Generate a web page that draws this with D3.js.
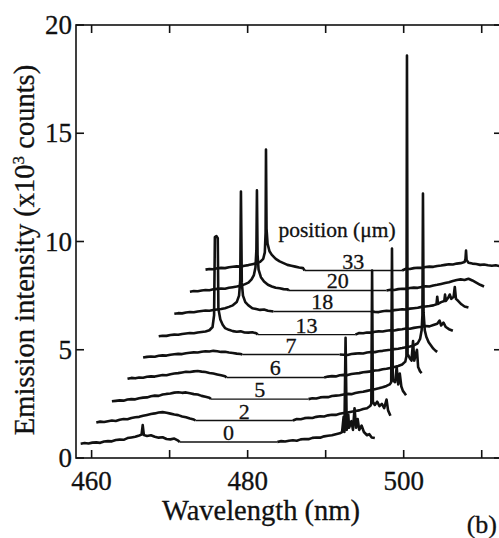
<!DOCTYPE html>
<html>
<head>
<meta charset="utf-8">
<script src="https://cdn.jsdelivr.net/npm/d3@7/dist/d3.min.js"></script>
<style>
  html, body { margin: 0; padding: 0; background: #fff; }
  svg { display: block; font-family: "Liberation Serif", "Times New Roman", serif; }
</style>
</head>
<body>
<svg id="chart" width="499" height="538"></svg>
<script>
// Emission spectra recorded along the sample, stacked as a waterfall.
// Each spectrum: two measured windows (raw wavelength in nm, intensity in 10^3 counts).
const positions = ["0", "2", "5", "6", "7", "13", "18", "20", "33"];
// Per-spectrum shift used for the waterfall (nm along x, 10^3 counts along y)
const xOffsets = [0, 2, 4, 6, 8, 10, 12, 14, 16];
const yOffsets = [0, 1, 2, 3, 4, 5, 6, 7, 8];

const xTicks = [460, 470, 480, 490, 500, 510];
const xTickLabels = ["460", "", "480", "", "500", ""];
const yTicks = [0, 5, 10, 15, 20];

// Blue window (broad emission band)
const leftP0 = [[458.6,0.66],[459.1,0.69],[459.6,0.67],[460.1,0.71],[460.6,0.72],[461.1,0.70],[461.6,0.76],[462.1,0.78],[462.6,0.77],[463.1,0.83],[463.6,0.85],[464.1,0.84],[464.6,0.92],[465.1,0.95],[465.6,0.98],[466.1,1.04],[466.4,1.08],[466.55,1.52],[466.7,1.06],[467.1,1.02],[467.6,1.05],[468.1,0.98],[468.6,0.94],[469.1,0.96],[469.6,0.88],[470.1,0.86],[470.6,0.90],[471.1,0.80],[471.3,0.74]];
const leftP2 = [[458.6,0.64],[459.1,0.68],[459.6,0.66],[460.1,0.70],[460.6,0.73],[461.1,0.71],[461.6,0.77],[462.1,0.80],[462.6,0.79],[463.1,0.85],[463.6,0.88],[464.1,0.90],[464.6,0.95],[465.1,0.99],[465.6,1.03],[466.1,1.06],[466.6,1.10],[467.1,1.12],[467.6,1.09],[468.1,1.05],[468.6,1.01],[469.1,0.98],[469.6,0.92],[470.1,0.88],[470.6,0.82],[471.1,0.78],[471.3,0.73]];
const leftP5 = [[458.6,0.62],[459.1,0.64],[459.6,0.66],[460.1,0.65],[460.6,0.70],[461.1,0.72],[461.6,0.71],[462.1,0.76],[462.6,0.79],[463.1,0.80],[463.6,0.85],[464.1,0.88],[464.6,0.87],[465.1,0.93],[465.6,0.96],[466.1,0.98],[466.6,1.02],[467.1,1.04],[467.6,1.01],[468.1,1.03],[468.6,0.99],[469.1,0.95],[469.6,0.93],[470.1,0.87],[470.6,0.83],[471.1,0.78],[471.3,0.72]];
const leftP6 = [[458.6,0.66],[459.1,0.70],[459.6,0.68],[460.1,0.72],[460.6,0.71],[461.1,0.75],[461.6,0.77],[462.1,0.76],[462.6,0.80],[463.1,0.83],[463.6,0.82],[464.1,0.87],[464.6,0.90],[465.1,0.92],[465.6,0.95],[466.1,0.98],[466.6,0.97],[467.1,1.00],[467.6,1.02],[468.1,0.99],[468.6,0.97],[469.1,0.93],[469.6,0.90],[470.1,0.86],[470.6,0.82],[471.1,0.78],[471.3,0.72]];
const leftP7 = [[458.6,0.64],[459.1,0.67],[459.6,0.69],[460.1,0.68],[460.6,0.72],[461.1,0.74],[461.6,0.73],[462.1,0.77],[462.6,0.79],[463.1,0.81],[463.6,0.80],[464.1,0.84],[464.6,0.86],[465.1,0.88],[465.6,0.87],[466.1,0.91],[466.6,0.93],[467.1,0.92],[467.6,0.95],[468.1,0.93],[468.6,0.90],[469.1,0.91],[469.6,0.87],[470.1,0.85],[470.6,0.82],[471.1,0.80],[471.3,0.78]];
const leftP13 = [[458.6,0.62],[459.1,0.65],[459.6,0.64],[460.1,0.68],[460.6,0.70],[461.1,0.69],[461.6,0.73],[462.1,0.75],[462.6,0.77],[463.1,0.76],[463.6,0.80],[464.1,0.82],[464.6,0.84],[465.1,0.90],[465.5,1.05],[465.7,1.6],[465.8,5.20],[466.0,5.25],[466.17,5.15],[466.25,1.9],[466.5,1.4],[466.8,1.15],[467.1,1.0],[467.6,0.92],[468.1,0.86],[468.6,0.83],[469.1,0.85],[469.6,0.80],[470.1,0.79],[470.6,0.81],[471.1,0.76],[471.3,0.70]];
const leftP18 = [[458.6,0.66],[459.1,0.69],[459.6,0.68],[460.1,0.72],[460.6,0.74],[461.1,0.73],[461.6,0.77],[462.1,0.79],[462.6,0.81],[463.1,0.80],[463.6,0.84],[464.1,0.86],[464.6,0.88],[465.1,0.92],[465.6,0.98],[466.1,1.05],[466.6,1.2],[466.9,1.5],[467.05,2.2],[467.14,6.31],[467.25,2.1],[467.4,1.5],[467.7,1.2],[468.1,1.05],[468.6,0.92],[469.1,0.88],[469.6,0.84],[470.1,0.86],[470.6,0.80],[471.1,0.78],[471.3,0.77]];
const leftP20 = [[458.6,0.68],[459.1,0.71],[459.6,0.70],[460.1,0.74],[460.6,0.76],[461.1,0.75],[461.6,0.79],[462.1,0.81],[462.6,0.83],[463.1,0.82],[463.6,0.86],[464.1,0.89],[464.6,0.92],[465.1,0.96],[465.6,1.02],[466.1,1.10],[466.5,1.25],[466.8,1.45],[467.0,1.8],[467.12,2.6],[467.19,5.36],[467.27,2.4],[467.4,1.7],[467.7,1.35],[468.1,1.15],[468.6,1.0],[469.1,0.92],[469.6,0.86],[470.1,0.84],[470.6,0.80],[471.1,0.79],[471.3,0.74]];
const leftP33 = [[458.6,0.70],[459.1,0.73],[459.6,0.72],[460.1,0.76],[460.6,0.78],[461.1,0.77],[461.6,0.81],[462.1,0.83],[462.6,0.85],[463.1,0.84],[463.6,0.88],[464.1,0.91],[464.6,0.95],[465.1,0.99],[465.6,1.06],[466.0,1.2],[466.2,1.5],[466.3,2.4],[466.35,6.25],[466.42,2.6],[466.55,1.9],[466.8,1.55],[467.1,1.38],[467.6,1.2],[468.1,1.08],[468.6,1.0],[469.1,0.92],[469.6,0.88],[470.1,0.84],[470.6,0.80],[471.1,0.77],[471.3,0.66]];

// Green window (lasing lines)
const rightP0 = [[483.8,0.74],[484.3,0.78],[484.8,0.76],[485.3,0.80],[485.8,0.82],[486.3,0.80],[486.8,0.86],[487.3,0.88],[487.8,0.87],[488.3,0.93],[488.8,0.95],[489.3,0.94],[489.8,1.00],[490.3,1.03],[490.8,1.05],[491.3,1.10],[491.8,1.14],[492.1,1.2],[492.3,1.9],[492.4,1.2],[492.55,5.55],[492.7,1.3],[492.9,2.0],[493.0,1.4],[493.3,1.7],[493.5,1.3],[493.7,2.3],[493.9,1.4],[494.1,1.8],[494.3,1.3],[494.6,1.5],[494.9,1.2],[495.3,1.05],[495.6,1.1],[495.9,0.95],[496.3,0.92]];
const rightP2 = [[483.8,0.73],[484.3,0.80],[484.8,0.79],[485.3,0.84],[485.8,0.86],[486.3,0.85],[486.8,0.90],[487.3,0.93],[487.8,0.92],[488.3,0.97],[488.8,1.00],[489.3,0.99],[489.8,1.04],[490.3,1.08],[490.8,1.10],[491.3,1.14],[491.8,1.17],[492.3,1.20],[492.8,1.26],[493.3,1.30],[493.7,1.40],[493.85,1.5],[493.95,7.66],[494.05,1.6],[494.3,1.45],[494.6,1.6],[494.9,1.4],[495.2,1.5],[495.5,1.3],[495.8,1.7],[496.0,1.2],[496.3,0.95]];
const rightP5 = [[483.8,0.72],[484.3,0.76],[484.8,0.75],[485.3,0.80],[485.8,0.82],[486.3,0.81],[486.8,0.86],[487.3,0.88],[487.8,0.90],[488.3,0.93],[488.8,0.96],[489.3,0.95],[489.8,1.00],[490.3,1.04],[490.8,1.06],[491.3,1.10],[491.8,1.14],[492.3,1.18],[492.8,1.22],[493.3,1.27],[493.8,1.33],[494.2,1.40],[494.4,1.5],[494.5,7.68],[494.6,1.6],[494.9,1.5],[495.1,2.2],[495.3,1.4],[495.5,1.9],[495.7,1.3],[495.9,1.1],[496.1,1.0],[496.3,0.9]];
const rightP6 = [[483.8,0.72],[484.3,0.76],[484.8,0.78],[485.3,0.77],[485.8,0.82],[486.3,0.84],[486.8,0.83],[487.3,0.88],[487.8,0.90],[488.3,0.92],[488.8,0.96],[489.3,0.98],[489.8,1.00],[490.3,1.04],[490.8,1.05],[491.3,1.10],[491.8,1.12],[492.3,1.16],[492.8,1.20],[493.3,1.25],[493.8,1.32],[494.2,1.45],[494.35,1.7],[494.42,15.59],[494.5,1.8],[494.8,1.6],[495.0,1.5],[495.2,2.4],[495.35,1.5],[495.7,2.0],[495.85,1.2],[496.1,1.0],[496.3,0.92]];
const rightP7 = [[483.8,0.78],[484.3,0.77],[484.8,0.76],[485.3,0.80],[485.8,0.82],[486.3,0.84],[486.8,0.83],[487.3,0.87],[487.8,0.90],[488.3,0.89],[488.8,0.93],[489.3,0.95],[489.8,0.98],[490.3,1.00],[490.8,1.03],[491.3,1.05],[491.8,1.08],[492.3,1.12],[492.8,1.15],[493.3,1.20],[493.8,1.30],[494.1,1.5],[494.3,1.9],[494.4,2.6],[494.47,8.22],[494.55,2.7],[494.7,1.9],[494.9,1.6],[495.2,1.35],[495.5,1.2],[495.8,1.05],[496.1,0.95],[496.3,0.9]];
const rightP13 = [[483.8,0.70],[484.3,0.77],[484.8,0.76],[485.3,0.80],[485.8,0.79],[486.3,0.83],[486.8,0.85],[487.3,0.84],[487.8,0.88],[488.3,0.90],[488.8,0.89],[489.3,0.93],[489.8,0.95],[490.3,0.98],[490.8,0.97],[491.3,1.01],[491.8,1.04],[492.3,1.06],[492.8,1.10],[493.3,1.08],[493.8,1.14],[494.3,1.20],[494.6,1.35],[494.8,1.12],[495.1,1.25],[495.4,1.05],[495.8,0.95],[496.3,0.88]];
const rightP18 = [[483.8,0.77],[484.3,0.75],[484.8,0.74],[485.3,0.78],[485.8,0.80],[486.3,0.79],[486.8,0.83],[487.3,0.85],[487.8,0.87],[488.3,0.86],[488.8,0.90],[489.3,0.92],[489.8,0.94],[490.3,0.98],[490.8,1.00],[491.3,1.02],[491.8,1.05],[492.2,1.10],[492.3,1.45],[492.4,1.12],[492.8,1.20],[493.2,1.25],[493.3,1.55],[493.4,1.25],[493.7,1.40],[493.9,1.55],[494.1,1.35],[494.4,1.45],[494.55,1.9],[494.7,1.35],[495.0,1.25],[495.4,1.10],[495.8,1.0],[496.3,0.95]];
const rightP20 = [[483.8,0.74],[484.3,0.77],[484.8,0.76],[485.3,0.80],[485.8,0.82],[486.3,0.81],[486.8,0.85],[487.3,0.87],[487.8,0.86],[488.3,0.90],[488.8,0.93],[489.3,0.92],[489.8,0.97],[490.3,1.00],[490.8,1.04],[491.3,1.08],[491.8,1.12],[492.3,1.18],[492.8,1.22],[493.3,1.25],[493.8,1.22],[494.3,1.28],[494.8,1.20],[495.3,1.10],[495.8,1.00],[496.3,0.92]];
const rightP33 = [[483.8,0.66],[484.3,0.74],[484.8,0.73],[485.3,0.77],[485.8,0.79],[486.3,0.78],[486.8,0.82],[487.3,0.84],[487.8,0.83],[488.3,0.87],[488.8,0.89],[489.3,0.92],[489.8,0.95],[490.3,0.94],[490.8,0.98],[491.3,1.00],[491.8,1.05],[491.92,1.2],[491.99,1.58],[492.06,1.15],[492.3,1.02],[492.8,0.98],[493.3,0.96],[493.8,0.92],[494.3,0.94],[494.8,0.90],[495.3,0.88],[495.8,0.90],[496.3,0.86]];

const leftWindows = [leftP0, leftP2, leftP5, leftP6, leftP7, leftP13, leftP18, leftP20, leftP33];
const rightWindows = [rightP0, rightP2, rightP5, rightP6, rightP7, rightP13, rightP18, rightP20, rightP33];

const svg = d3.select("#chart");
const plot = { left: 76, right: 502, top: 25, bottom: 458 };
const ink = "#111";

const x = d3.scaleLinear().domain([458, 512.6]).range([plot.left, plot.right]);
const y = d3.scaleLinear().domain([0, 20]).range([plot.bottom, plot.top]);

svg.append("defs").append("clipPath").attr("id", "plotclip")
  .append("rect")
  .attr("x", plot.left).attr("y", plot.top)
  .attr("width", plot.right - plot.left).attr("height", plot.bottom - plot.top);

const traces = svg.append("g").attr("clip-path", "url(#plotclip)");

positions.forEach((pos, i) => {
  const dx = xOffsets[i], dy = yOffsets[i];
  const line = d3.line()
    .x(d => x(d[0] + dx))
    .y(d => y(d[1] + dy));
  const L = leftWindows[i], R = rightWindows[i];
  const a = L[L.length - 1], b = R[0];

  // connecting baseline between the two windows
  traces.append("line")
    .attr("x1", x(a[0] + dx)).attr("y1", y(a[1] + dy))
    .attr("x2", x(b[0] + dx)).attr("y2", y(b[1] + dy))
    .attr("stroke", ink).attr("stroke-width", 1.4);

  [L, R].forEach(seg => {
    traces.append("path")
      .datum(seg)
      .attr("d", line)
      .attr("fill", "none")
      .attr("stroke", ink)
      .attr("stroke-width", 2.6)
      .attr("stroke-linejoin", "round");
  });

  // position label sits on the connecting line
  const mx = (x(a[0] + dx) + x(b[0] + dx)) / 2;
  const my = (y(a[1] + dy) + y(b[1] + dy)) / 2;
  svg.append("text")
    .attr("x", mx).attr("y", my - 2)
    .attr("text-anchor", "middle")
    .attr("font-size", 22)
    .attr("fill", ink)
    .attr("stroke", ink).attr("stroke-width", 0.3)
    .text(pos);
});

svg.append("text")
  .attr("x", 337).attr("y", 237)
  .attr("text-anchor", "middle")
  .attr("font-size", 21.5)
  .attr("fill", ink)
  .attr("stroke", ink).attr("stroke-width", 0.3)
  .text("position (\u03bcm)");

// Frame
svg.append("rect")
  .attr("x", plot.left).attr("y", plot.top)
  .attr("width", plot.right - plot.left).attr("height", plot.bottom - plot.top)
  .attr("fill", "none").attr("stroke", ink).attr("stroke-width", 1.6);

const tickLen = 8;
const gx = svg.append("g");
xTicks.forEach((t, k) => {
  const px = x(t);
  gx.append("line").attr("x1", px).attr("x2", px)
    .attr("y1", plot.bottom).attr("y2", plot.bottom - tickLen)
    .attr("stroke", ink).attr("stroke-width", 1.6);
  gx.append("line").attr("x1", px).attr("x2", px)
    .attr("y1", plot.top).attr("y2", plot.top + tickLen)
    .attr("stroke", ink).attr("stroke-width", 1.6);
  if (xTickLabels[k]) {
    gx.append("text").attr("x", px).attr("y", plot.bottom + 32)
      .attr("text-anchor", "middle").attr("font-size", 27)
      .attr("fill", ink).attr("stroke", ink).attr("stroke-width", 0.3)
      .text(xTickLabels[k]);
  }
});

const gy = svg.append("g");
yTicks.forEach(t => {
  const py = y(t);
  gy.append("line").attr("x1", plot.left).attr("x2", plot.left + tickLen)
    .attr("y1", py).attr("y2", py)
    .attr("stroke", ink).attr("stroke-width", 1.6);
  gy.append("line").attr("x1", plot.right).attr("x2", plot.right - tickLen)
    .attr("y1", py).attr("y2", py)
    .attr("stroke", ink).attr("stroke-width", 1.6);
  gy.append("text").attr("x", plot.left - 4).attr("y", py + 9)
    .attr("text-anchor", "end").attr("font-size", 27)
    .attr("fill", ink).attr("stroke", ink).attr("stroke-width", 0.3)
    .text(String(t));
});

svg.append("text")
  .attr("x", 261).attr("y", 520)
  .attr("text-anchor", "middle").attr("font-size", 28.5)
  .attr("fill", ink).attr("stroke", ink).attr("stroke-width", 0.3)
  .text("Wavelength (nm)");

const yTitle = svg.append("text")
  .attr("transform", "translate(34,250) rotate(-90)")
  .attr("text-anchor", "middle").attr("font-size", 28.5)
  .attr("fill", ink).attr("stroke", ink).attr("stroke-width", 0.3);
yTitle.append("tspan").text("Emission intensity (x10");
yTitle.append("tspan").attr("dy", -10).attr("font-size", 17).text("3");
yTitle.append("tspan").attr("dy", 10).text(" counts)");

svg.append("text")
  .attr("x", 497).attr("y", 533)
  .attr("text-anchor", "end")
  .attr("font-size", 26).attr("fill", ink)
  .attr("stroke", ink).attr("stroke-width", 0.3)
  .text("(b)");
</script>
</body>
</html>
